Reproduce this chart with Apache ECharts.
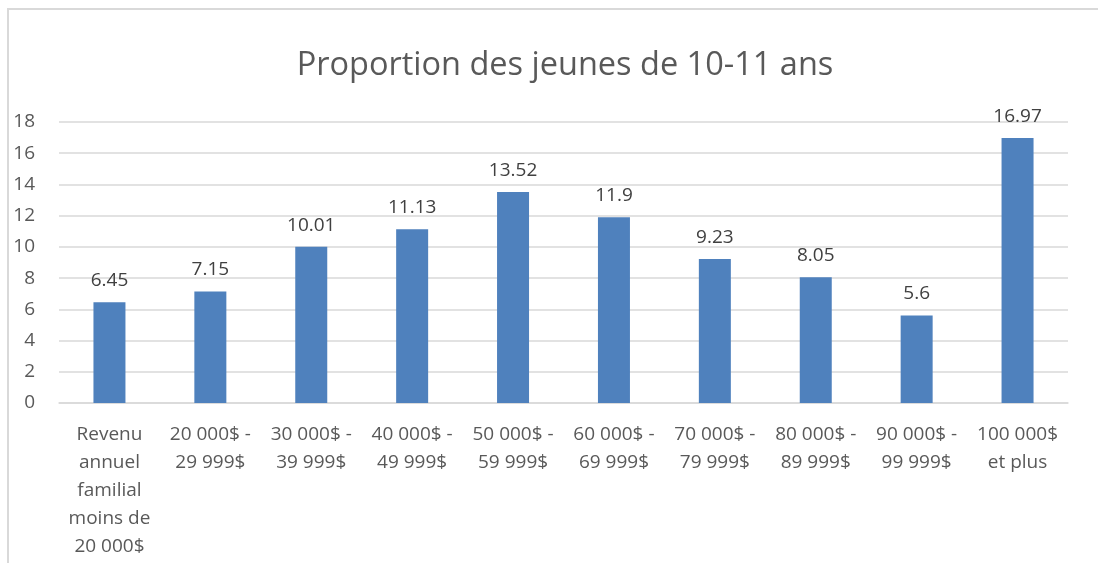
<!DOCTYPE html>
<html>
<head>
<meta charset="utf-8">
<script src="https://cdn.jsdelivr.net/npm/echarts@6/dist/echarts.min.js"></script>
<style>
  html, body { margin: 0; padding: 0; background: #fff; }
  #chart { width: 1098px; height: 563px; }
</style>
</head>
<body>
<div id="chart"></div>
<script>
// catégories de revenu (retours à la ligne comme dans Excel)
const categories = [
  'Revenu\nannuel\nfamilial\nmoins de\n20 000$',
  '20 000$ -\n29 999$',
  '30 000$ -\n39 999$',
  '40 000$ -\n49 999$',
  '50 000$ -\n59 999$',
  '60 000$ -\n69 999$',
  '70 000$ -\n79 999$',
  '80 000$ -\n89 999$',
  '90 000$ -\n99 999$',
  '100 000$\net plus'
]
const values = [6.45, 7.15, 10.01, 11.13, 13.52, 11.9, 9.23, 8.05, 5.6, 16.97]
const yTicks = [0, 2, 4, 6, 8, 10, 12, 14, 16, 18]

const font = '"Open Sans", "Noto Sans", sans-serif'

const myChart = echarts.init(document.getElementById('chart'))
myChart.setOption({
  animation: false,
  title: {
    text: 'Proportion des jeunes de 10-11 ans',
    left: 560,
    textAlign: 'center',
    top: 44,
    textStyle: {
      fontFamily: font,
      fontSize: 32.5,
      fontWeight: 'normal',
      color: '#595959'
    }
  },
  graphic: [{
    type: 'rect',
    shape: { x: 8, y: 9, width: 1200, height: 700 },
    style: { fill: 'none', stroke: '#d9d9d9', lineWidth: 2 },
    silent: true
  }],
  grid: {
    left: 59,
    right: 30,
    top: 122,
    bottom: 160
  },
  xAxis: {
    type: 'category',
    data: categories,
    axisLine: { show: true, lineStyle: { color: '#d9d9d9', width: 1.5 } },
    axisTick: { show: false },
    axisLabel: {
      interval: 0,
      margin: 18,
      fontFamily: font,
      fontSize: 19,
      lineHeight: 28,
      color: '#595959'
    }
  },
  yAxis: {
    type: 'value',
    min: yTicks[0],
    max: yTicks[yTicks.length - 1],
    interval: 2,
    axisLine: { show: false },
    axisTick: { show: false },
    splitLine: { lineStyle: { color: '#d9d9d9', width: 1.5 } },
    axisLabel: {
      margin: 24,
      fontFamily: font,
      fontSize: 19,
      color: '#595959'
    }
  },
  series: [{
    type: 'bar',
    data: values,
    barWidth: 32,
    itemStyle: { color: '#4f81bd' },
    label: {
      show: true,
      position: 'top',
      distance: 12,
      fontFamily: font,
      fontSize: 19,
      color: '#404040'
    }
  }]
})
</script>
</body>
</html>
